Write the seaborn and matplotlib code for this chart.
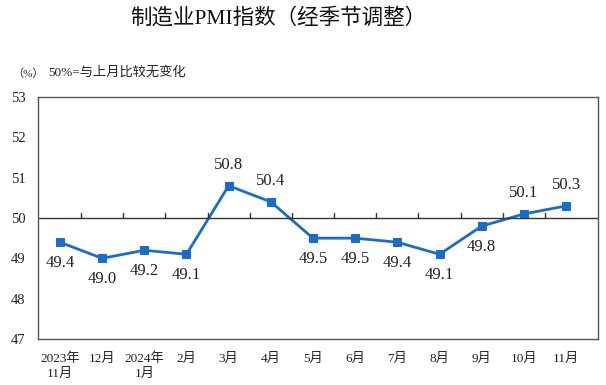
import matplotlib
matplotlib.use('Agg')
import matplotlib.pyplot as plt
import seaborn as sns
import pandas as pd

# Data
months = ['2023年\n11月', '12月', '2024年\n1月', '2月', '3月', '4月', '5月',
          '6月', '7月', '8月', '9月', '10月', '11月']
pmi = [49.4, 49.0, 49.2, 49.1, 50.8, 50.4, 49.5, 49.5, 49.4, 49.1, 49.8, 50.1, 50.3]

df = pd.DataFrame({'month': months, 'pmi': pmi, 'x': range(len(months))})

sns.set_style('white')
plt.rcParams['font.family'] = ['Liberation Serif', 'Noto Sans CJK SC', 'DejaVu Sans']

fig = plt.figure(figsize=(6.06, 3.85), dpi=100)
ax = fig.add_axes([0.0627, 0.1195, 0.9243, 0.6285])

sns.lineplot(data=df, x='x', y='pmi', ax=ax, color='#1a6ccc', marker='s',
             markersize=5.5, markeredgecolor='#1a6ccc', linewidth=2)

# 50 reference line with small ticks between months
ax.axhline(50, color='#333333', linewidth=1)
for i in range(len(months) - 1):
    ax.plot([i + 0.5, i + 0.5], [50, 50.13], color='#333333', linewidth=1)

# value labels
for i, v in enumerate(pmi):
    if v >= 50:
        ax.annotate(f'{v:.1f}', (i, v), xytext=(0, 9), textcoords='offset points',
                    ha='center', va='bottom', fontsize=12, color='#222222')
    else:
        ax.annotate(f'{v:.1f}', (i, v), xytext=(0, -9), textcoords='offset points',
                    ha='center', va='top', fontsize=12, color='#222222')

ax.set_xlim(-0.52, 12.76)
ax.set_ylim(47, 53)
ax.set_xticks(range(len(months)))
ax.set_xticklabels(months, fontsize=9.5, linespacing=1.3)
ax.set_yticks([47, 48, 49, 50, 51, 52, 53])
ax.tick_params(axis='x', length=0, pad=10, labelsize=9.5, colors='#222222')
ax.tick_params(axis='y', length=0, pad=9, labelsize=10.5, colors='#222222')
ax.set_xlabel('')
ax.set_ylabel('')
for s in ax.spines.values():
    s.set_color('#555555')
    s.set_linewidth(1)

fig.text(0.459, 0.952, '制造业PMI指数（经季节调整）', ha='center', va='center',
         fontsize=15.5, color='#111111')
fig.text(0.02, 0.81, '（%）', ha='left', va='center', fontsize=8, color='#222222')
fig.text(0.079, 0.812, '50%=与上月比较无变化', ha='left', va='center', fontsize=9.5,
         color='#222222')

fig.savefig('out.png', dpi=100)
